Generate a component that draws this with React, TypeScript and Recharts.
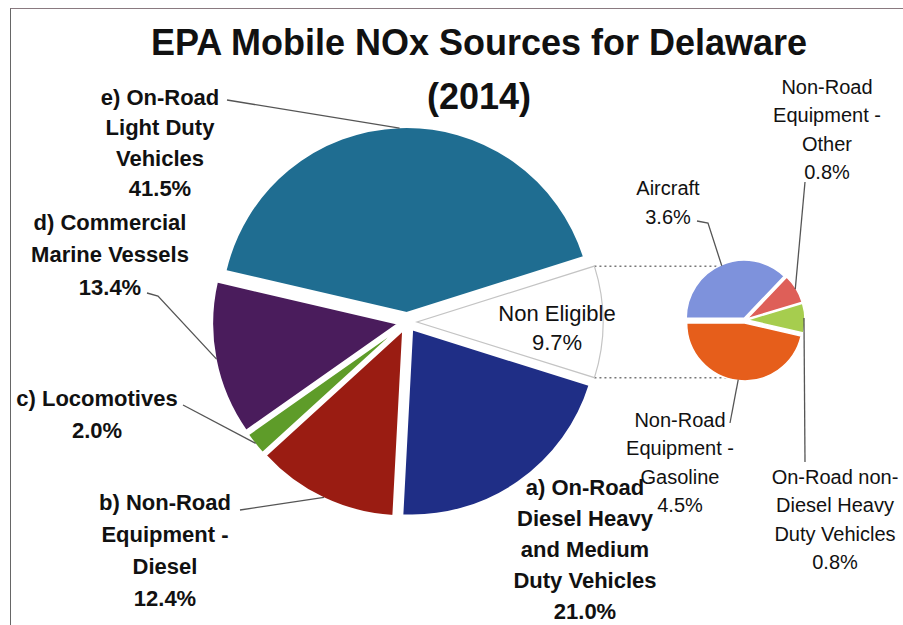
import { PieChart, Pie, Cell, Sector } from "recharts";

// main pie, clockwise from the exploded "Non Eligible" slice
const mainNames = [
  "Non Eligible",
  "a) On-Road Diesel Heavy and Medium Duty Vehicles",
  "b) Non-Road Equipment - Diesel",
  "c) Locomotives",
  "d) Commercial Marine Vessels",
  "e) On-Road Light Duty Vehicles",
];
const mainValues = [9.7, 21.0, 12.4, 2.0, 13.4, 41.5];
const mainLines = [
  ["Non Eligible"],
  ["a) On-Road", "Diesel Heavy", "and Medium", "Duty Vehicles"],
  ["b) Non-Road", "Equipment -", "Diesel"],
  ["c) Locomotives"],
  ["d) Commercial", "Marine Vessels"],
  ["e) On-Road", "Light Duty", "Vehicles"],
];

// second pie: breakdown of "Non Eligible"
const subNames = [
  "Aircraft",
  "Non-Road Equipment - Other",
  "On-Road non-Diesel Heavy Duty Vehicles",
  "Non-Road Equipment - Gasoline",
];
const subValues = [3.6, 0.8, 0.8, 4.5];
const subLines = [
  ["Aircraft"],
  ["Non-Road", "Equipment -", "Other"],
  ["On-Road non-", "Diesel Heavy", "Duty Vehicles"],
  ["Non-Road", "Equipment -", "Gasoline"],
];

const mainColors = ["#ffffff", "#1F2E86", "#9A1C12", "#5E9C29", "#4A1C5C", "#1F6D91"];
const subColors = ["#7E92DC", "#DE5F58", "#A6CD4E", "#E65E1B"];

const mainExplode = [10, 9, 9, 9, 9, 9];
const subExplode = [2, 2, 2, 3];

// label layout: [center x, first line y, line height]
const mainLabelPos = [
  [557, 313, 29],
  [585, 487, 31],
  [165, 502, 32],
  [97, 398, 32],
  [110, 222, 32.5],
  [160, 97, 30.5],
];
const mainWeights = ["normal", "bold", "bold", "bold", "bold", "bold"];
const subLabelPos = [
  [668, 188, 29],
  [827, 87, 28.3],
  [835, 477, 28.3],
  [680, 420, 28.3],
];
const subWeights = ["normal", "normal", "normal", "normal"];
// leader line start points (text side)
const mainLeaders: number[][][] = [[], [], [[240, 510]], [[183, 405]], [[147, 293], [158, 296]], [[227, 100]]];
const subLeaders: number[][][] = [[[697, 221], [708, 223]], [[805, 182]], [[805, 462]], [[730, 423]]];

const MAIN = { cx: 407, cy: 322, r: 186, start: 17.5 };
const SUB = { cx: 745, cy: 320, r: 58, start: 180 };
const RAD = Math.PI / 180;
const FONT = "'Liberation Sans', Arial, sans-serif";

const mainData = mainNames.map((name, i) => ({ name, value: mainValues[i] }));
const subData = subNames.map((name, i) => ({ name, value: subValues[i] }));

function offset(midAngle: number, d: number) {
  return { dx: d * Math.cos(-midAngle * RAD), dy: d * Math.sin(-midAngle * RAD) };
}

function exploded(names: string[], explode: number[]) {
  return (p: any) => {
    const name = p.payload?.name ?? p.name;
    const i = Math.max(0, names.indexOf(name));
    const { dx, dy } = offset(p.midAngle, explode[i]);
    return (
      <Sector
        cx={p.cx + dx}
        cy={p.cy + dy}
        innerRadius={0}
        outerRadius={p.outerRadius}
        startAngle={p.startAngle}
        endAngle={p.endAngle}
        fill={p.fill}
        stroke={p.stroke}
        strokeWidth={p.strokeWidth}
      />
    );
  };
}

function labels(
  lines: string[][],
  values: number[],
  pos: number[][],
  leaders: number[][][],
  explode: number[],
  size: number,
  weights: string[]
) {
  return (p: any) => {
    const i = p.index;
    const [x, y0, lh] = pos[i];
    const all = [...lines[i], `${values[i].toFixed(1)}%`];
    const { dx, dy } = offset(p.midAngle, explode[i]);
    const ex = p.cx + dx + (p.outerRadius - 1) * Math.cos(-p.midAngle * RAD);
    const ey = p.cy + dy + (p.outerRadius - 1) * Math.sin(-p.midAngle * RAD);
    const pts = leaders[i];
    return (
      <g key={`lbl-${i}`}>
        {pts.length > 0 && (
          <polyline
            points={[...pts, [ex, ey]].map((q) => q.join(",")).join(" ")}
            fill="none"
            stroke="#555"
            strokeWidth={1.3}
          />
        )}
        <text
          x={x}
          y={y0}
          textAnchor="middle"
          fontFamily={FONT}
          fontSize={size}
          fontWeight={weights[i]}
          fill="#111"
        >
          {all.map((t, k) => (
            <tspan key={k} x={x} y={y0 + k * lh} dominantBaseline="central">
              {t}
            </tspan>
          ))}
        </text>
      </g>
    );
  };
}

// dotted connectors from the "Non Eligible" slice corners to the second pie
function Connectors() {
  const half = (mainValues[0] / mainValues.reduce((a, b) => a + b, 0)) * 180;
  const ox = MAIN.cx + mainExplode[0];
  const rows = [-1, 1].map((s) => {
    const y = MAIN.cy + s * MAIN.r * Math.sin(half * RAD);
    const x1 = ox + MAIN.r * Math.cos(half * RAD);
    const x2 = SUB.cx - Math.sqrt(Math.max(0, SUB.r * SUB.r - (y - SUB.cy) ** 2));
    return { x1, x2, y };
  });
  return (
    <g>
      {rows.map((r, k) => (
        <line key={k} x1={r.x1} y1={r.y} x2={r.x2} y2={r.y} stroke="#777" strokeWidth={1.4} strokeDasharray="2 3" />
      ))}
    </g>
  );
}

export default function App() {
  return (
    <div style={{ position: "absolute", left: 0, top: 0, width: 903, height: 625, background: "#fff", overflow: "hidden" }}>
      <div
        style={{
          position: "absolute",
          left: 10,
          top: 8,
          width: 920,
          height: 640,
          borderLeft: "1.5px solid #666",
          borderTop: "1.5px solid #8a7a80",
        }}
      />
      <div
        style={{
          position: "absolute",
          left: 0,
          top: 16,
          width: 958,
          textAlign: "center",
          fontFamily: FONT,
          fontWeight: 700,
          fontSize: 36,
          lineHeight: "54px",
          color: "#111",
        }}
      >
        EPA Mobile NOx Sources for Delaware
        <br />
        (2014)
      </div>
      <div style={{ position: "absolute", left: 0, top: 0 }}>
        <PieChart width={903} height={625} margin={{ top: 0, right: 0, bottom: 0, left: 0 }}>
          <Connectors />
          <Pie
            data={mainData}
            dataKey="value"
            nameKey="name"
            cx={MAIN.cx}
            cy={MAIN.cy}
            outerRadius={MAIN.r}
            startAngle={MAIN.start}
            endAngle={MAIN.start - 360}
            stroke="#ffffff"
            strokeWidth={2}
            shape={exploded(mainNames, mainExplode)}
            inactiveShape={exploded(mainNames, mainExplode)}
            label={labels(mainLines, mainValues, mainLabelPos, mainLeaders, mainExplode, 22, mainWeights)}
            labelLine={false}
            isAnimationActive={false}
          >
            {mainData.map((d, i) => (
              <Cell key={d.name} fill={mainColors[i]} stroke={i === 0 ? "#c4c4c4" : "#ffffff"} strokeWidth={i === 0 ? 1.2 : 2} />
            ))}
          </Pie>
          <Pie
            data={subData}
            dataKey="value"
            nameKey="name"
            cx={SUB.cx}
            cy={SUB.cy}
            outerRadius={SUB.r}
            startAngle={SUB.start}
            endAngle={SUB.start - 360}
            stroke="#ffffff"
            strokeWidth={1.5}
            shape={exploded(subNames, subExplode)}
            inactiveShape={exploded(subNames, subExplode)}
            label={labels(subLines, subValues, subLabelPos, subLeaders, subExplode, 20, subWeights)}
            labelLine={false}
            isAnimationActive={false}
          >
            {subData.map((d, i) => (
              <Cell key={d.name} fill={subColors[i]} />
            ))}
          </Pie>
        </PieChart>
      </div>
    </div>
  );
}
